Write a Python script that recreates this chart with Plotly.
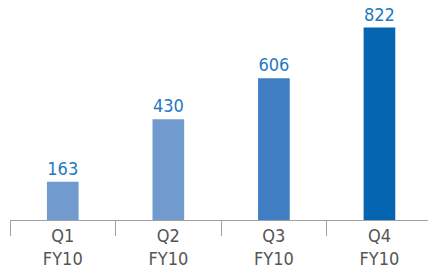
import plotly.graph_objects as go

categories = ["Q1<br>FY10", "Q2<br>FY10", "Q3<br>FY10", "Q4<br>FY10"]
values = [163, 430, 606, 822]
labels = ["163", "430", "606", "822"]
colors = ["#719BCF", "#719BCF", "#3F7EC3", "#0565B1"]

FONT = "Liberation Sans Narrow, DejaVu Sans Condensed, Roboto Condensed, Roboto, sans-serif"

fig = go.Figure(go.Bar(
    x=categories, y=values, text=labels, textposition="outside",
    marker=dict(color=colors, line=dict(width=0)),
    textfont=dict(color="#2478C0", size=18, family=FONT),
    width=0.3, cliponaxis=False, hoverinfo="skip",
))
fig.update_layout(
    width=428, height=271, margin=dict(l=10, r=0, t=0, b=51, autoexpand=False),
    paper_bgcolor="white", plot_bgcolor="white", showlegend=False,
    xaxis=dict(range=[-0.5, 3.46], showline=True, linecolor="#A0A0A0", linewidth=1,
               ticks="outside", tickson="boundaries", ticklen=15, tickcolor="#A0A0A0",
               ticklabelstandoff=-1, automargin=False,
               tickfont=dict(color="#555555", size=18, family=FONT),
               showgrid=False, zeroline=False),
    yaxis=dict(range=[0, 940], visible=False, showgrid=False, automargin=False),
    bargap=0.7,
)
fig.write_html("out.html", config={"displayModeBar": False},
               post_script="document.body.style.margin='0';document.body.style.overflow='hidden';")
